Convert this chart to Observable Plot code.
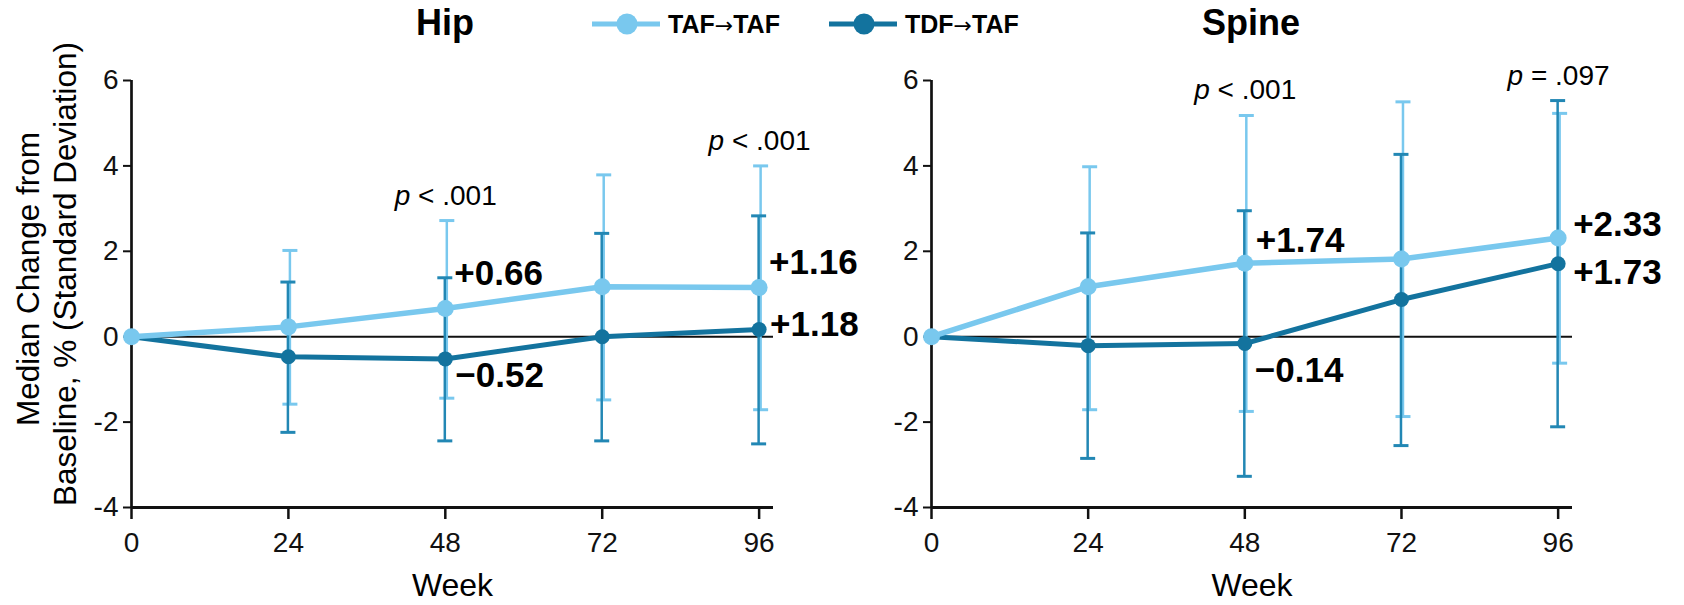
<!DOCTYPE html>
<html>
<head>
<meta charset="utf-8">
<script src="https://cdn.jsdelivr.net/npm/d3@7"></script>
<script src="https://cdn.jsdelivr.net/npm/@observablehq/plot@0.6"></script>
<style>
  html, body { margin: 0; padding: 0; background: #fff; }
  #wrap { position: relative; width: 1684px; height: 605px; font-family: "Liberation Sans", Arial, sans-serif; }
  #panels { position: absolute; left: 0; top: 50px; display: flex; }
  #panels svg { overflow: visible; }
  #overlay { position: absolute; left: 0; top: 0; pointer-events: none; overflow: visible; }
</style>
</head>
<body>
<div id="wrap">
  <div id="panels"></div>
  <svg id="overlay" width="1684" height="605"></svg>
</div>
<script>
// ---------- data ----------
const weeks = [0, 24, 48, 72, 96];
const seriesNames = ["TAF", "TDF"];           // legend: name + "→TAF"
const panelTitles = ["Hip", "Spine"];
const yTicks = [-4, -2, 0, 2, 4, 6];
const yTitleLines = ["Median Change from", "Baseline, % (Standard Deviation)"];

// Hip
const hipTAF = [0, 0.23, 0.66, 1.17, 1.15];
const hipTAFHi = [null, 2.02, 2.72, 3.79, 4.00];
const hipTAFLo = [null, -1.58, -1.44, -1.48, -1.71];
const hipTDF = [0, -0.47, -0.52, 0.00, 0.17];
const hipTDFHi = [null, 1.28, 1.38, 2.42, 2.83];
const hipTDFLo = [null, -2.24, -2.44, -2.44, -2.51];
const hipLabels = ["+0.66", "\u22120.52", "+1.16", "+1.18"];
const hipPWeeks = [48, 96];
const hipPText = ["< .001", "< .001"];

// Spine
const spineTAF = [0, 1.17, 1.72, 1.82, 2.31];
const spineTAFHi = [null, 3.98, 5.18, 5.50, 5.23];
const spineTAFLo = [null, -1.71, -1.75, -1.87, -0.62];
const spineTDF = [0, -0.21, -0.16, 0.87, 1.71];
const spineTDFHi = [null, 2.43, 2.95, 4.27, 5.53];
const spineTDFLo = [null, -2.85, -3.27, -2.55, -2.11];
const spineLabels = ["+1.74", "\u22120.14", "+2.33", "+1.73"];
const spinePWeeks = [48, 96];
const spinePText = ["< .001", "= .097"];

// ---------- styles ----------
const LIGHT = "#79c8ee";
const DARK = "#13739e";
const DARKBAR = "#2287b4";
const INK = "#111";
const FONT = "Liberation Sans, Arial, sans-serif";

const capSymbol = {
  draw(ctx, size) {
    const r = Math.sqrt(size / Math.PI);
    ctx.moveTo(-r, 0);
    ctx.lineTo(r, 0);
  }
};

function rows(med, lo, hi) {
  return weeks.map((w, i) => ({week: w, value: med[i], lo: lo[i], hi: hi[i]}));
}

// label placement (series, week index, pixel offsets)
const labelPlacementHip = [
  {series: 0, idx: 2, dx: 9, dy: -35},
  {series: 1, idx: 2, dx: 10, dy: 17},
  {series: 0, idx: 4, dx: 10, dy: -25},
  {series: 1, idx: 4, dx: 11, dy: -5}
];
const labelPlacementSpine = [
  {series: 0, idx: 2, dx: 11, dy: -22},
  {series: 1, idx: 2, dx: 10, dy: 27},
  {series: 0, idx: 4, dx: 15, dy: -13},
  {series: 1, idx: 4, dx: 15, dy: 9}
];

function panel(cfg) {
  const taf = rows(cfg.taf, cfg.tafLo, cfg.tafHi);
  const tdf = rows(cfg.tdf, cfg.tdfLo, cfg.tdfHi);
  const tafBars = taf.filter(d => d.hi != null);
  const tdfBars = tdf.filter(d => d.hi != null);
  const series = [taf, tdf];

  const labelMarks = cfg.labels.map((t, i) => {
    const p = cfg.placement[i];
    const d = series[p.series][p.idx];
    return Plot.text([{week: d.week, value: d.value, t}], {
      x: "week", y: "value", text: "t", textAnchor: "start",
      dx: p.dx, dy: p.dy, fontSize: 35, fontWeight: "bold", fill: "#000"
    });
  });

  const pRows = cfg.pWeeks.map((w, i) => {
    const idx = weeks.indexOf(w);
    return {week: w, top: Math.max(taf[idx].hi, tdf[idx].hi), t: cfg.pText[i]};
  });

  return Plot.plot({
    width: 842,
    height: 555,
    marginLeft: cfg.marginLeft,
    marginRight: cfg.marginRight,
    marginTop: 30,
    marginBottom: 98,
    style: {fontFamily: FONT, color: INK, background: "transparent", overflow: "visible"},
    x: {domain: [0, 98.2]},
    y: {domain: [-4, 6]},
    marks: [
      Plot.ruleY([0], {stroke: INK, strokeWidth: 2}),
      Plot.ruleY([-4], {stroke: INK, strokeWidth: 3}),
      Plot.ruleX([0], {stroke: INK, strokeWidth: 2.7}),
      Plot.axisY({ticks: yTicks, tickSize: 8, tickPadding: 5, fontSize: 28, tickFormat: d => String(d), label: null, stroke: INK, strokeWidth: 2}),
      Plot.axisX({ticks: weeks, tickSize: 12, tickPadding: 13, fontSize: 28, tickFormat: d => String(d), label: null, stroke: INK, strokeWidth: 2.5}),
      // error bars
      Plot.ruleX(tafBars, {x: "week", y1: "lo", y2: "hi", stroke: LIGHT, strokeWidth: 2.5, dx: 1.5}),
      Plot.dot(tafBars, {x: "week", y: "hi", symbol: capSymbol, r: 7.5, stroke: LIGHT, strokeWidth: 3, dx: 1.5}),
      Plot.dot(tafBars, {x: "week", y: "lo", symbol: capSymbol, r: 7.5, stroke: LIGHT, strokeWidth: 3, dx: 1.5}),
      Plot.ruleX(tdfBars, {x: "week", y1: "lo", y2: "hi", stroke: DARKBAR, strokeWidth: 2.5, dx: -0.5}),
      Plot.dot(tdfBars, {x: "week", y: "hi", symbol: capSymbol, r: 7.5, stroke: DARKBAR, strokeWidth: 3, dx: -0.5}),
      Plot.dot(tdfBars, {x: "week", y: "lo", symbol: capSymbol, r: 7.5, stroke: DARKBAR, strokeWidth: 3, dx: -0.5}),
      // lines
      Plot.line(tdf, {x: "week", y: "value", stroke: DARK, strokeWidth: 5}),
      Plot.dot(tdf, {x: "week", y: "value", r: 7.5, fill: DARK}),
      Plot.line(taf, {x: "week", y: "value", stroke: LIGHT, strokeWidth: 5.5}),
      Plot.dot(taf, {x: "week", y: "value", r: 8.5, fill: LIGHT}),
      // value labels
      ...labelMarks,
      // p values
      Plot.text(pRows, {x: "week", y: "top", text: () => "p", fontStyle: "italic", textAnchor: "end", dx: -35, dy: -25, fontSize: 28, fill: "#000"}),
      Plot.text(pRows, {x: "week", y: "top", text: d => "\u00a0" + d.t, textAnchor: "start", dx: -35, dy: -25, fontSize: 28, fill: "#000"}),
      // x axis title
      Plot.text(["Week"], {frameAnchor: "bottom", text: d => d, dy: 88, fontSize: 32, fill: "#000"})
    ]
  });
}

const panels = document.getElementById("panels");
panels.appendChild(panel({
  taf: hipTAF, tafLo: hipTAFLo, tafHi: hipTAFHi,
  tdf: hipTDF, tdfLo: hipTDFLo, tdfHi: hipTDFHi,
  labels: hipLabels, placement: labelPlacementHip,
  pWeeks: hipPWeeks, pText: hipPText,
  marginLeft: 131, marginRight: 69
}));
panels.appendChild(panel({
  taf: spineTAF, tafLo: spineTAFLo, tafHi: spineTAFHi,
  tdf: spineTDF, tdfLo: spineTDFLo, tdfHi: spineTDFHi,
  labels: spineLabels, placement: labelPlacementSpine,
  pWeeks: spinePWeeks, pText: spinePText,
  marginLeft: 89, marginRight: 112
}));

// overlay: titles, legend, y-axis title
const overlay = d3.select("#overlay");
overlay.selectAll("text.title").data(panelTitles).join("text")
  .attr("class", "title")
  .attr("x", (d, i) => i === 0 ? 445 : 1251)
  .attr("y", 35)
  .attr("text-anchor", "middle")
  .attr("font-family", FONT)
  .attr("font-weight", "bold")
  .attr("font-size", 36)
  .attr("fill", "#000")
  .text(d => d);

const legendColors = [LIGHT, DARK];
const legendX = [592, 829];
const lg = overlay.selectAll("g.lg").data(seriesNames).join("g")
  .attr("class", "lg")
  .attr("transform", (d, i) => `translate(${legendX[i]},24)`);
lg.append("line").attr("x1", 0).attr("x2", 68).attr("y1", 0).attr("y2", 0)
  .attr("stroke", (d, i) => legendColors[i]).attr("stroke-width", 5);
lg.append("circle").attr("cx", 35).attr("cy", 0).attr("r", 10.5)
  .attr("fill", (d, i) => legendColors[i]);
const lt = lg.append("text").attr("x", 76).attr("y", 8.5)
  .attr("font-family", FONT).attr("font-weight", "bold").attr("font-size", 25)
  .attr("fill", "#000");
lt.append("tspan").text(d => d);
lt.append("tspan").attr("font-family", "DejaVu Sans").attr("font-weight", "normal").attr("font-size", 22).text("\u2192");
lt.append("tspan").text("TAF");

const yTitleX = [39, 76];
const yTitleY = [279, 274];
overlay.selectAll("text.ytitle").data(yTitleLines).join("text")
  .attr("class", "ytitle")
  .attr("transform", (d, i) => `translate(${yTitleX[i]},${yTitleY[i]}) rotate(-90)`)
  .attr("text-anchor", "middle")
  .attr("font-family", FONT)
  .attr("font-size", 31.5)
  .attr("fill", "#000")
  .text(d => d);
</script>
</body>
</html>
